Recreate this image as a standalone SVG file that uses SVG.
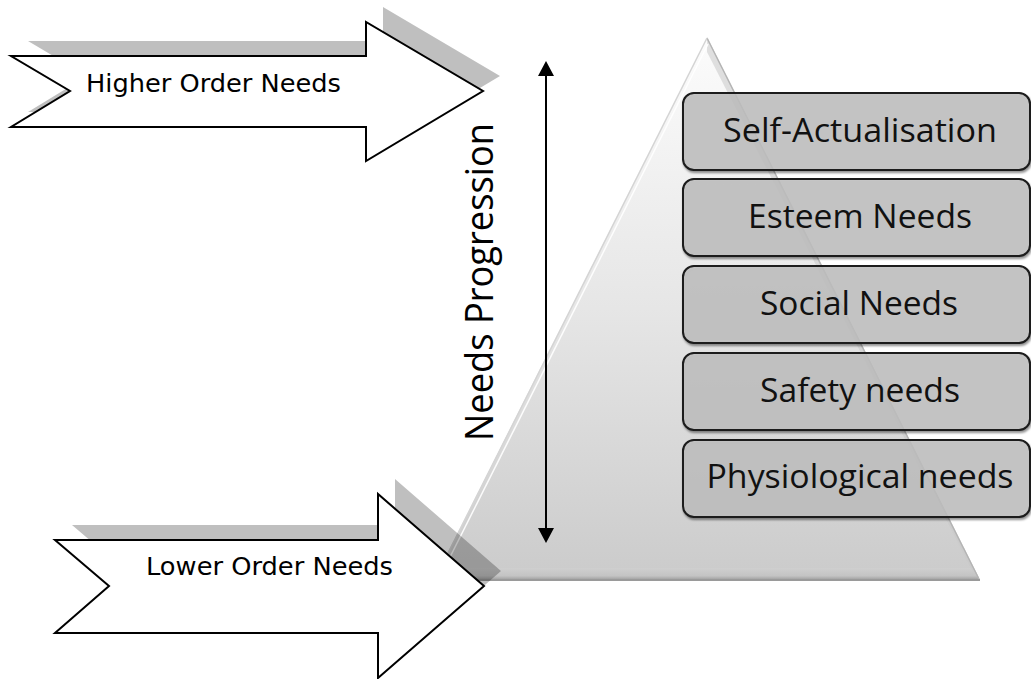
<svg xmlns="http://www.w3.org/2000/svg" width="1031" height="679" viewBox="0 0 1031 679">
  <style>
    .arrow { fill: #ffffff; stroke: #000000; stroke-width: 2; stroke-linejoin: miter; }
    .shadow { fill: #000000; fill-opacity: 0.25; }
    .alabel { font-family: "DejaVu Sans", Verdana, sans-serif; font-size: 25px; fill: #000000; }
    .level rect { fill: #c2c2c2; fill-opacity: 0.82; stroke: #1a1a1a; stroke-width: 2; }
    .level text { font-family: "Open Sans", "Noto Sans", sans-serif; font-size: 33px; fill: #111111; text-anchor: middle; }
    .vlabel { font-family: "Open Sans", "Noto Sans", sans-serif; font-size: 39px; fill: #000000; }
    .link { stroke: #000000; stroke-width: 2; fill: none; }
  </style>
  <defs>
    <linearGradient id="pyrFill" x1="0" y1="37" x2="0" y2="580" gradientUnits="userSpaceOnUse">
      <stop offset="0" stop-color="#fcfcfc"/>
      <stop offset="0.5" stop-color="#e6e6e6"/>
      <stop offset="1" stop-color="#cbcbcb"/>
    </linearGradient>
    <linearGradient id="baseBevel" x1="0" y1="566" x2="0" y2="580" gradientUnits="userSpaceOnUse">
      <stop offset="0" stop-color="#d2d2d2"/>
      <stop offset="0.7" stop-color="#c4c4c4"/>
      <stop offset="1" stop-color="#9c9c9c"/>
    </linearGradient>
    <filter id="boxShadow" x="-5%" y="-10%" width="110%" height="130%">
      <feDropShadow dx="1" dy="2" stdDeviation="1.2" flood-color="#000000" flood-opacity="0.45"/>
    </filter>
    <marker id="head" viewBox="0 0 15 16" refX="0" refY="8" markerWidth="15" markerHeight="16" markerUnits="userSpaceOnUse" orient="auto-start-reverse">
      <path d="M0,0 L15,8 L0,16 z" fill="#000000"/>
    </marker>
  </defs>

  <!-- pyramid body with bevelled edges -->
  <g id="pyramid">
    <polygon points="707,37 434,580 980,580" fill="url(#pyrFill)"/>
    <polygon points="434,580 980,580 971,568 443,568" fill="url(#baseBevel)"/>
    <polygon points="707,37 980,580 971,568 707,52" fill="#c9c9c9" fill-opacity="0.55"/>
    <line x1="707" y1="38" x2="979" y2="579" stroke="#b4b4b4" stroke-width="1.5"/>
    <line x1="707" y1="38" x2="435" y2="579" stroke="#d4d4d4" stroke-width="1.5"/>
    <line x1="708" y1="44" x2="441" y2="575" stroke="#ffffff" stroke-width="1.5" stroke-opacity="0.9"/>
    <line x1="434" y1="580" x2="980" y2="580" stroke="#9a9a9a" stroke-width="2"/>
  </g>

  <!-- drop shadows of the two block arrows -->
  <g id="arrow-shadows">
    <polygon class="shadow" transform="translate(17,-15)" points="11,56 366,56 366,22 483,91 366,161 366,127 11,127 70,91"/>
    <polygon class="shadow" transform="translate(17,-15)" points="55,540 378,540 378,494 484,586 378,678 378,633 55,633 109,586"/>
  </g>

  <g id="higher-order">
    <polygon class="arrow" points="11,56 366,56 366,22 483,91 366,161 366,127 11,127 70,91"/>
    <text class="alabel" x="86" y="92" textLength="255" lengthAdjust="spacingAndGlyphs">Higher Order Needs</text>
  </g>

  <g id="lower-order">
    <polygon class="arrow" points="55,540 378,540 378,494 484,586 378,678 378,633 55,633 109,586"/>
    <text class="alabel" x="146" y="575" textLength="247" lengthAdjust="spacingAndGlyphs">Lower Order Needs</text>
  </g>

  <g id="progression-label">
    <text class="vlabel" transform="translate(493,441) rotate(-90)" textLength="318" lengthAdjust="spacingAndGlyphs">Needs Progression</text>
  </g>

  <g id="connectors">
    <line class="link" x1="546" y1="76" x2="546" y2="528" marker-start="url(#head)" marker-end="url(#head)"/>
  </g>

  <g id="self-actualisation" class="level">
    <rect x="683" y="93" width="347" height="77" rx="11" filter="url(#boxShadow)"/>
    <text x="860" y="142" textLength="274" lengthAdjust="spacingAndGlyphs">Self-Actualisation</text>
  </g>
  <g id="esteem" class="level">
    <rect x="683" y="179" width="347" height="77" rx="11" filter="url(#boxShadow)"/>
    <text x="860" y="228" textLength="224" lengthAdjust="spacingAndGlyphs">Esteem Needs</text>
  </g>
  <g id="social" class="level">
    <rect x="683" y="266" width="347" height="77" rx="11" filter="url(#boxShadow)"/>
    <text x="859" y="315" textLength="198" lengthAdjust="spacingAndGlyphs">Social Needs</text>
  </g>
  <g id="safety" class="level">
    <rect x="683" y="353" width="347" height="77" rx="11" filter="url(#boxShadow)"/>
    <text x="860" y="402" textLength="200" lengthAdjust="spacingAndGlyphs">Safety needs</text>
  </g>
  <g id="physiological" class="level">
    <rect x="683" y="440" width="347" height="77" rx="11" filter="url(#boxShadow)"/>
    <text x="860" y="488" textLength="307" lengthAdjust="spacingAndGlyphs">Physiological needs</text>
  </g>
</svg>
